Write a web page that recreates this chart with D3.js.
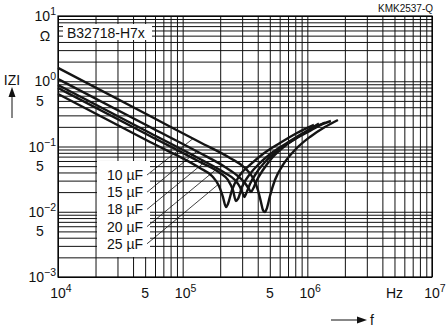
<!DOCTYPE html>
<html><head><meta charset="utf-8">
<script src="https://cdn.jsdelivr.net/npm/d3@7"></script>
<style>
body{margin:0;background:#fff;}
svg{display:block;font-family:"Liberation Sans",Arial,Helvetica,sans-serif;}
</style></head><body>
<svg id="c" width="446" height="329"></svg>
<script>
// ---- data ----
const seriesLabels = ["10 µF","15 µF","18 µF","20 µF","25 µF"];
const f10 = [1e4,54700,137600,239500,315900,366300,401700,424600,440600,457100,474300,501300,549800,637300,795400,1049000,1384000,1760000];
const z10 = [1.60,0.293,0.116,0.0667,0.0468,0.0329,0.0215,0.0141,0.0106,0.0099,0.0114,0.0174,0.0307,0.0521,0.0884,0.140,0.199,0.255];
const f15 = [1e4,54700,137600,218400,277600,315900,340200,353000,366300,394300,440600,520200,661300,872500,1151000,1546000];
const z15 = [1.083,0.199,0.0795,0.0485,0.0353,0.0276,0.0223,0.0201,0.0223,0.0307,0.0436,0.0667,0.1018,0.145,0.199,0.246];
const f18 = [1e4,54700,137600,218400,262600,288100,304500,313000,321800,346500,394300,474300,603000,795400,1049000,1384000];
const z18 = [0.876,0.161,0.0644,0.0393,0.0307,0.0239,0.0187,0.0168,0.0187,0.0266,0.0406,0.0621,0.0915,0.130,0.173,0.233];
const f20 = [1e4,54700,137600,199200,230800,253100,267600,277600,298900,346500,416800,529900,725300,956800,1239000];
const z20 = [0.788,0.145,0.0579,0.0393,0.0307,0.0215,0.0146,0.0157,0.0239,0.0379,0.0559,0.0823,0.121,0.167,0.225];
const f25 = [1e4,54700,137600,171800,195500,210500,222400,230800,248500,288100,346500,440600,603000,825300,1130000];
const z25 = [0.638,0.117,0.0468,0.0353,0.0248,0.0168,0.0118,0.0132,0.0215,0.0366,0.0521,0.0767,0.113,0.161,0.214];
const leaderFreq = [121000,130000,151000,182000,192000];

const xTickValues = [1e4,5e4,1e5,5e5,1e6,5e6,1e7];
const xTickBase   = ["10","5","10","5","10","Hz","10"];
const xTickSup    = ["4","","5","","6","","7"];
const yTickValues = [10,5,1,0.5,0.1,0.05,0.01,0.005,0.001];
const yTickBase   = ["10","Ω","10","5","10","5","10","5","10"];
const yTickSup    = ["1","","0","","−1","","−2","","−3"];
const title = "B32718-H7x";
const code = "KMK2537-Q";

// ---- layout ----
const svg = d3.select("#c");
const L=58, R=432, T=16, B=277;
const x = d3.scaleLog().domain([1e4,1e7]).range([L,R]);
const y = d3.scaleLog().domain([1e-3,10]).range([B,T]);

const gridF=[], gridZ=[];
for (let d=4; d<=6; d++) for (let k=1;k<=9;k++) gridF.push(k*Math.pow(10,d));
gridF.push(1e7);
for (let d=-3; d<=0; d++) for (let k=1;k<=9;k++) gridZ.push(k*Math.pow(10,d));
gridZ.push(10);

// grid via axes
svg.append("g").attr("transform",`translate(0,${B})`)
  .call(d3.axisBottom(x).tickValues(gridF).tickSize(-(B-T)).tickFormat(""))
  .call(g=>{g.select(".domain").remove(); g.selectAll("line").attr("stroke","#111").attr("stroke-width",1);});
svg.append("g").attr("transform",`translate(${L},0)`)
  .call(d3.axisLeft(y).tickValues(gridZ).tickSize(-(R-L)).tickFormat(""))
  .call(g=>{g.select(".domain").remove(); g.selectAll("line").attr("stroke","#111").attr("stroke-width",1);});

svg.append("rect").attr("x",L).attr("y",T).attr("width",R-L).attr("height",B-T)
  .attr("fill","none").attr("stroke","#000").attr("stroke-width",1.2);

// title box
svg.append("rect").attr("x",63).attr("y",24).attr("width",89).attr("height",16).attr("fill","#fff");
svg.append("text").attr("x",67).attr("y",37.5).attr("font-size",14).attr("fill","#111").text(title);

// legend box
const legTop = 175, legStep = 17.2;
svg.append("rect").attr("x",97).attr("y",161).attr("width",53).attr("height",96).attr("fill","#fff");

// code top right
svg.append("text").attr("x",433).attr("y",12).attr("text-anchor","end").attr("font-size",10).attr("fill","#111").text(code);

// y tick labels
yTickValues.forEach((v,i)=>{
  const t = svg.append("text").attr("y",y(v)+5).attr("font-size",14).attr("fill","#111");
  if (yTickSup[i]) {
    t.attr("x",56).attr("text-anchor","end");
    t.append("tspan").text(yTickBase[i]);
    t.append("tspan").attr("dy",-6).attr("font-size",10.5).text(yTickSup[i]);
  } else {
    t.attr("x", yTickBase[i]==="Ω"?45:40).attr("text-anchor","middle").text(yTickBase[i]);
  }
});
// x tick labels
xTickValues.forEach((v,i)=>{
  const t = svg.append("text").attr("y",298).attr("font-size",14).attr("fill","#111");
  if (xTickSup[i]) {
    t.attr("x",x(v)-7.8);
    t.append("tspan").text(xTickBase[i]);
    t.append("tspan").attr("dy",-6).attr("font-size",10.5).text(xTickSup[i]);
  } else {
    t.attr("x",x(v)).attr("text-anchor","middle").text(xTickBase[i]);
  }
});

// axis titles
svg.append("text").attr("x",12).attr("y",85).attr("text-anchor","middle").attr("font-size",14).attr("fill","#111").text("IZI");
svg.append("line").attr("x1",12).attr("x2",12).attr("y1",118).attr("y2",96).attr("stroke","#111").attr("stroke-width",1);
svg.append("path").attr("d","M8.5,97 L12,87 L15.5,97 Z").attr("fill","#111");
svg.append("line").attr("x1",331).attr("x2",358).attr("y1",320).attr("y2",320).attr("stroke","#111").attr("stroke-width",1);
svg.append("path").attr("d","M357,316.5 L367,320 L357,323.5 Z").attr("fill","#111");
svg.append("text").attr("x",370).attr("y",325).attr("font-size",14).attr("fill","#111").text("f");

// curves
const series = [[f10,z10],[f15,z15],[f18,z18],[f20,z20],[f25,z25]].map(([f,z])=>f.map((v,i)=>[v,z[i]]));
function zAt(pts, fv){
  for (let i=0;i<pts.length-1;i++){
    if (fv>=pts[i][0] && fv<=pts[i+1][0]){
      const t=(Math.log(fv)-Math.log(pts[i][0]))/(Math.log(pts[i+1][0])-Math.log(pts[i][0]));
      return Math.exp(Math.log(pts[i][1])+t*(Math.log(pts[i+1][1])-Math.log(pts[i][1])));
    }
  }
  return pts[pts.length-1][1];
}
// legend labels + leaders
seriesLabels.forEach((s,i)=>{
  const ly = legTop + i*legStep;
  svg.append("text").attr("x",107).attr("y",ly+5).attr("font-size",14).attr("fill","#111").text(s);
  const fe = leaderFreq[i];
  svg.append("line").attr("x1",147).attr("y1",ly).attr("x2",x(fe)).attr("y2",y(zAt(series[i],fe)))
    .attr("stroke","#111").attr("stroke-width",0.8);
});
const line = d3.line().x(d=>x(d[0])).y(d=>y(d[1])).curve(d3.curveMonotoneX);
svg.append("g").selectAll("path").data(series).join("path")
  .attr("d",line).attr("fill","none").attr("stroke","#141414").attr("stroke-width",2.4);
</script>
</body></html>
